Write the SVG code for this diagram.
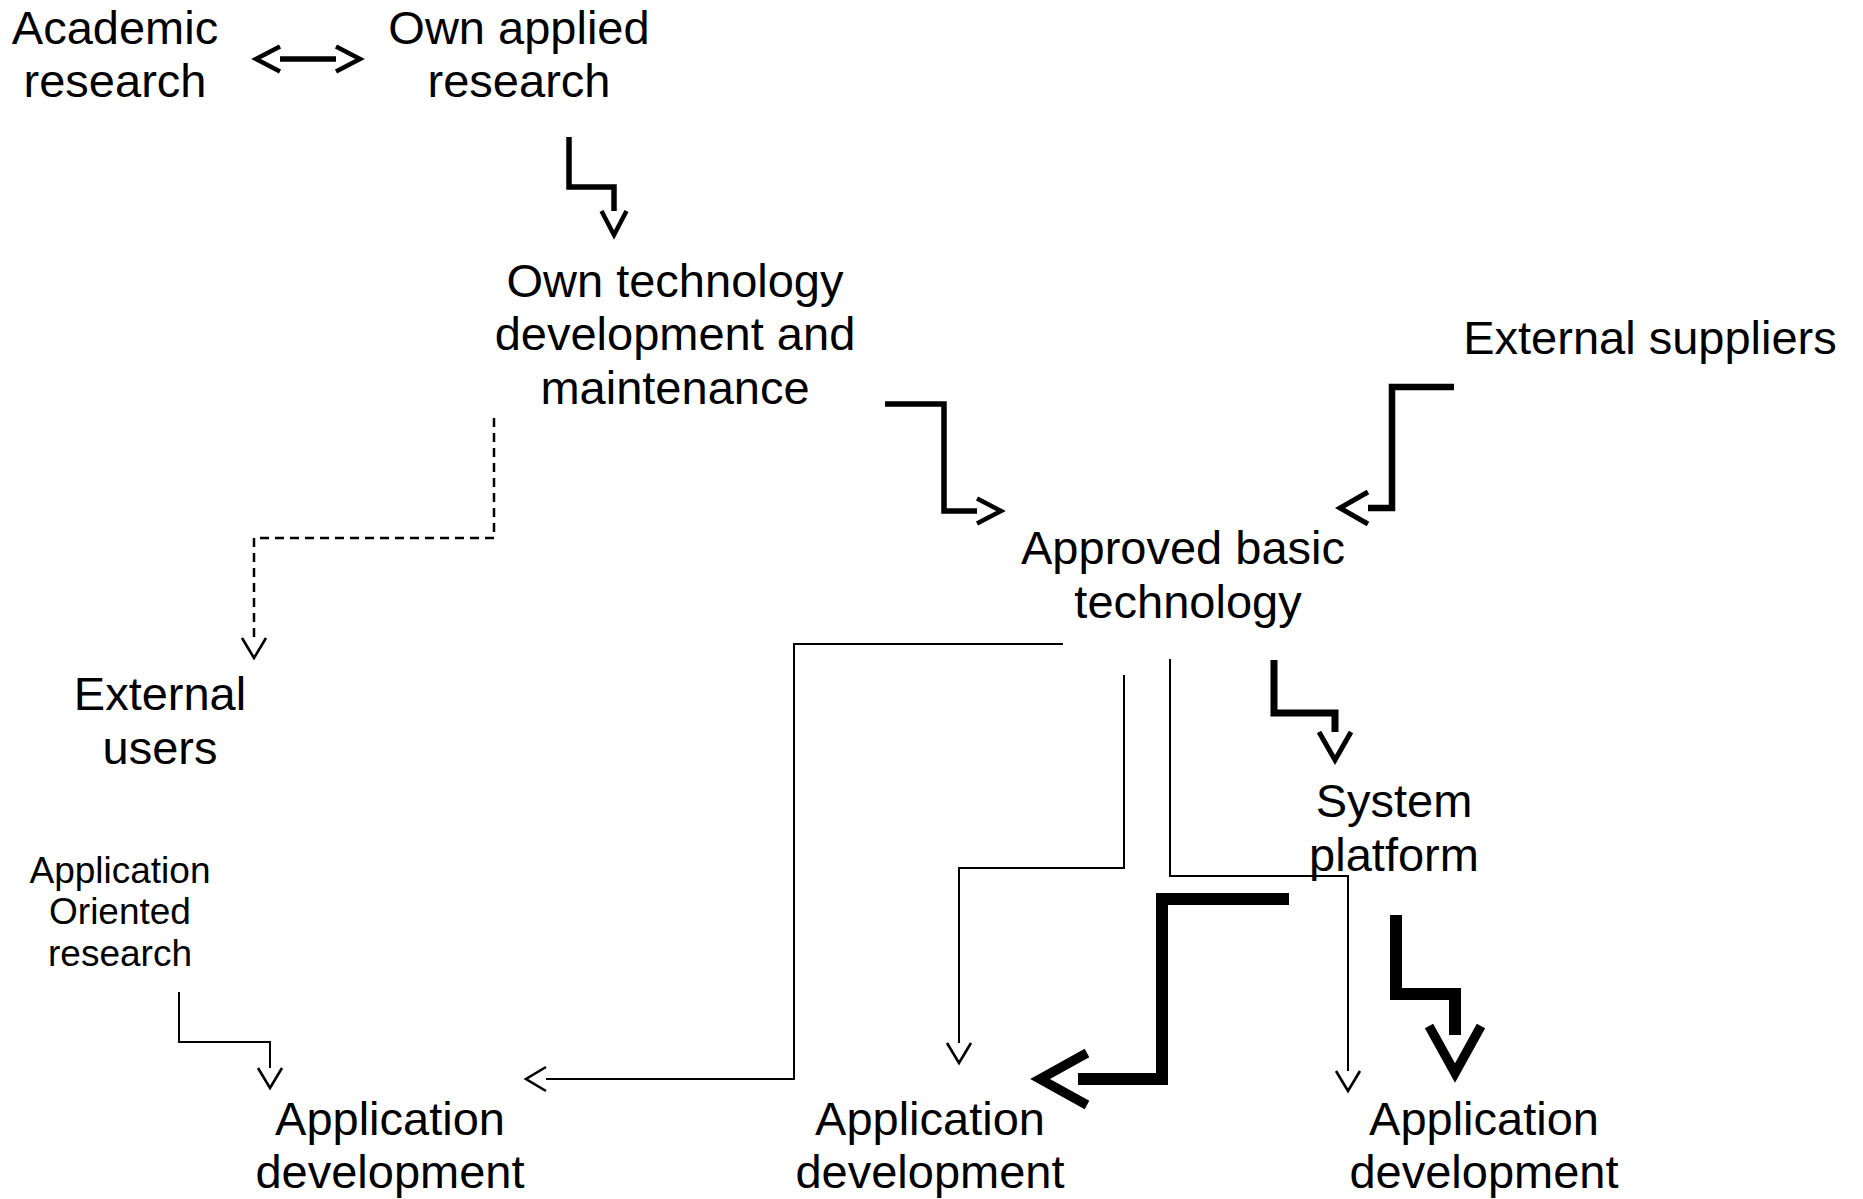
<svg xmlns="http://www.w3.org/2000/svg" width="1863" height="1199" viewBox="0 0 1863 1199">
<style>
text{font-family:"Liberation Sans",Arial,sans-serif;fill:#000;text-anchor:middle}
.big{font-size:47px}
.small{font-size:37px}
.c{fill:none;stroke:#000;stroke-linejoin:miter;stroke-linecap:butt}
.thin{stroke-width:2}
.dash{stroke-width:2.5;stroke-dasharray:9 6}
.med{stroke-width:5.5}
.med2{stroke-width:6.5}
.thick{stroke-width:7}
.heavy{stroke-width:12}
</style>
<defs>
<marker id="aS" markerUnits="userSpaceOnUse" markerWidth="40" markerHeight="40" viewBox="-10 -20 40 40" refX="0" refY="0" orient="auto" overflow="visible"><path d="M0,-12 L20,0 L0,12" fill="none" stroke="#000" stroke-width="2.6"/></marker>
<marker id="aM" markerUnits="userSpaceOnUse" markerWidth="40" markerHeight="40" viewBox="-5 -20 40 40" refX="0" refY="0" orient="auto-start-reverse" overflow="visible"><path d="M0,-12.5 L24,0 L0,12.5" fill="none" stroke="#000" stroke-width="4.5"/></marker>
<marker id="aL" markerUnits="userSpaceOnUse" markerWidth="50" markerHeight="50" viewBox="-5 -25 50 50" refX="0" refY="0" orient="auto" overflow="visible"><path d="M0,-16 L28,0 L0,16" fill="none" stroke="#000" stroke-width="5"/></marker>
<marker id="aX" markerUnits="userSpaceOnUse" markerWidth="80" markerHeight="80" viewBox="-20 -40 80 80" refX="0" refY="0" orient="auto" overflow="visible"><path d="M-9,-26 L38,0 L-9,26" fill="none" stroke="#000" stroke-width="9.5"/></marker>
</defs>
<g id="connectors">
<path class="c med" d="M280,59 L336,59" marker-start="url(#aM)" marker-end="url(#aM)"/>
<path class="c med" d="M569,137 L569,187 L614,187 L614,211" marker-end="url(#aM)"/>
<path class="c med" d="M885,404 L944,404 L944,511 L977,511" marker-end="url(#aM)"/>
<path class="c med2" d="M1454,387 L1392,387 L1392,508 L1368,508" marker-end="url(#aL)"/>
<path class="c dash" d="M494,418 L494,538 L254,538 L254,638" marker-end="url(#aS)"/>
<path class="c thin" d="M1063,644 L794,644 L794,1079 L546,1079" marker-end="url(#aS)"/>
<path class="c thin" d="M1124,675 L1124,868 L959,868 L959,1043" marker-end="url(#aS)"/>
<path class="c thin" d="M1170,659 L1170,876 L1348,876 L1348,1071" marker-end="url(#aS)"/>
<path class="c thick" d="M1274,660 L1274,713 L1335,713 L1335,732" marker-end="url(#aL)"/>
<path class="c heavy" d="M1289,899 L1162,899 L1162,1079 L1078,1079" marker-end="url(#aX)"/>
<path class="c heavy" d="M1396,915 L1396,994 L1455,994 L1455,1035" marker-end="url(#aX)"/>
<path class="c thin" d="M179,992 L179,1042 L270,1042 L270,1068" marker-end="url(#aS)"/>
</g>
<g id="academic-research"><text class="big" x="115" y="44">Academic</text><text class="big" x="115" y="97">research</text></g>
<g id="own-applied-research"><text class="big" x="519" y="44">Own applied</text><text class="big" x="519" y="97">research</text></g>
<g id="own-technology"><text class="big" x="675" y="297">Own technology</text><text class="big" x="675" y="350">development and</text><text class="big" x="675" y="404">maintenance</text></g>
<g id="external-suppliers"><text class="big" x="1650" y="354">External suppliers</text></g>
<g id="approved-basic-technology"><text class="big" x="1183" y="564">Approved basic</text><text class="big" x="1188" y="618">technology</text></g>
<g id="external-users"><text class="big" x="160" y="710">External</text><text class="big" x="160" y="764">users</text></g>
<g id="system-platform"><text class="big" x="1394" y="817">System</text><text class="big" x="1394" y="871">platform</text></g>
<g id="application-oriented-research"><text class="small" x="120" y="883">Application</text><text class="small" x="120" y="924">Oriented</text><text class="small" x="120" y="966">research</text></g>
<g id="app-dev-left"><text class="big" x="390" y="1135">Application</text><text class="big" x="390" y="1188">development</text></g>
<g id="app-dev-middle"><text class="big" x="930" y="1135">Application</text><text class="big" x="930" y="1188">development</text></g>
<g id="app-dev-right"><text class="big" x="1484" y="1135">Application</text><text class="big" x="1484" y="1188">development</text></g>
</svg>
